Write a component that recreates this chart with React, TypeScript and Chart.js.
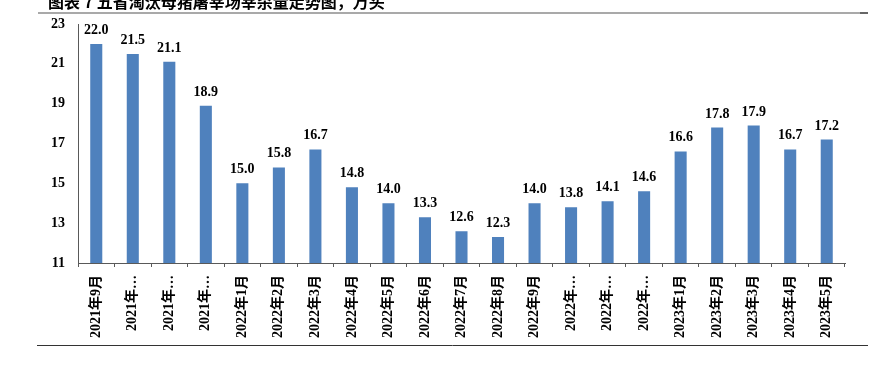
import React, { useEffect, useRef } from "react";
import { Chart, registerables } from "chart.js";

Chart.register(...registerables);

const TITLE = "图表 7 五省淘汰母猪屠宰场宰杀量走势图，万头";

const categories = [
  "2021年9月", "2021年10月", "2021年11月", "2021年12月",
  "2022年1月", "2022年2月", "2022年3月", "2022年4月", "2022年5月", "2022年6月",
  "2022年7月", "2022年8月", "2022年9月", "2022年10月", "2022年11月", "2022年12月",
  "2023年1月", "2023年2月", "2023年3月", "2023年4月", "2023年5月",
];

const values = [
  22.0, 21.5, 21.1, 18.9, 15.0, 15.8, 16.7, 14.8, 14.0, 13.3, 12.6,
  12.3, 14.0, 13.8, 14.1, 14.6, 16.6, 17.8, 17.9, 16.7, 17.2,
];

const yMin = 11;
const yMax = 23;
const yStep = 2;

const FONT_FAMILY = '"Liberation Serif", "Noto Sans CJK SC", serif';

const decorPlugin = {
  id: "decor",
  afterDraw(chart: any) {
    const ctx = chart.ctx as CanvasRenderingContext2D;
    ctx.save();
    // title
    ctx.fillStyle = "#000";
    ctx.font = 'bold 16px "Noto Sans CJK SC", sans-serif';
    ctx.textAlign = "left";
    ctx.textBaseline = "alphabetic";
    ctx.fillText(TITLE, 48, 8);
    // top rule
    ctx.strokeStyle = "#8c8c8c";
    ctx.lineWidth = 1.5;
    ctx.beginPath();
    ctx.moveTo(38, 13);
    ctx.lineTo(860, 13);
    ctx.stroke();
    ctx.strokeStyle = "#333";
    ctx.beginPath();
    ctx.moveTo(860, 13);
    ctx.lineTo(868, 13);
    ctx.stroke();
    // bottom rule
    ctx.strokeStyle = "#333";
    ctx.lineWidth = 1;
    ctx.beginPath();
    ctx.moveTo(37, 345.5);
    ctx.lineTo(868, 345.5);
    ctx.stroke();
    // data labels
    ctx.font = "bold 14px " + FONT_FAMILY;
    ctx.textAlign = "center";
    ctx.textBaseline = "alphabetic";
    ctx.fillStyle = "#000";
    const meta = chart.getDatasetMeta(0);
    meta.data.forEach((bar: any, i: number) => {
      ctx.fillText(values[i].toFixed(1), bar.x, bar.y - 10);
    });
    ctx.restore();
  },
};

export default function App() {
  const ref = useRef<HTMLCanvasElement | null>(null);
  useEffect(() => {
    if (!ref.current) return;
    const chart = new Chart(ref.current, {
      type: "bar",
      data: {
        labels: categories,
        datasets: [
          {
            data: values,
            backgroundColor: "#4F81BD",
            borderWidth: 0,
            barPercentage: 0.66,
            categoryPercentage: 0.5,
          },
        ],
      },
      options: {
        animation: false,
        responsive: false,
        devicePixelRatio: 1,
        layout: { padding: { left: 0, right: 29, top: 24, bottom: 0 } },
        plugins: {
          legend: { display: false },
          title: { display: false },
          tooltip: { enabled: false },
        },
        scales: {
          x: {
            grid: {
              display: true,
              drawOnChartArea: false,
              drawTicks: true,
              tickLength: 4,
              color: "#595959",
              offset: true,
            },
            border: { display: true, color: "#595959", width: 1 },
            ticks: {
              autoSkip: false,
              maxRotation: 90,
              minRotation: 90,
              padding: 8,
              color: "#000",
              font: { family: FONT_FAMILY, size: 14, weight: "bold" },
              callback: (v: any, i: number) => {
                const s = categories[i];
                return s.length > 7 ? s.slice(0, 5) + "…" : s;
              },
            },
            afterFit: (s: any) => {
              s.height = 106;
            },
          },
          y: {
            min: yMin,
            max: yMax,
            grid: { display: false, drawTicks: false, tickLength: 0 },
            border: { display: true, color: "#595959", width: 1 },
            ticks: {
              stepSize: yStep,
              padding: 13,
              color: "#000",
              font: { family: FONT_FAMILY, size: 14, weight: "bold" },
            },
            afterFit: (s: any) => {
              s.width = 78;
            },
          },
        },
      },
      plugins: [decorPlugin],
    });
    return () => chart.destroy();
  }, []);
  return (
    <div style={{ position: "fixed", left: 0, top: 0, width: 874, height: 369, background: "#fff" }}>
      <canvas ref={ref} width={874} height={369} style={{ display: "block" }} />
    </div>
  );
}
